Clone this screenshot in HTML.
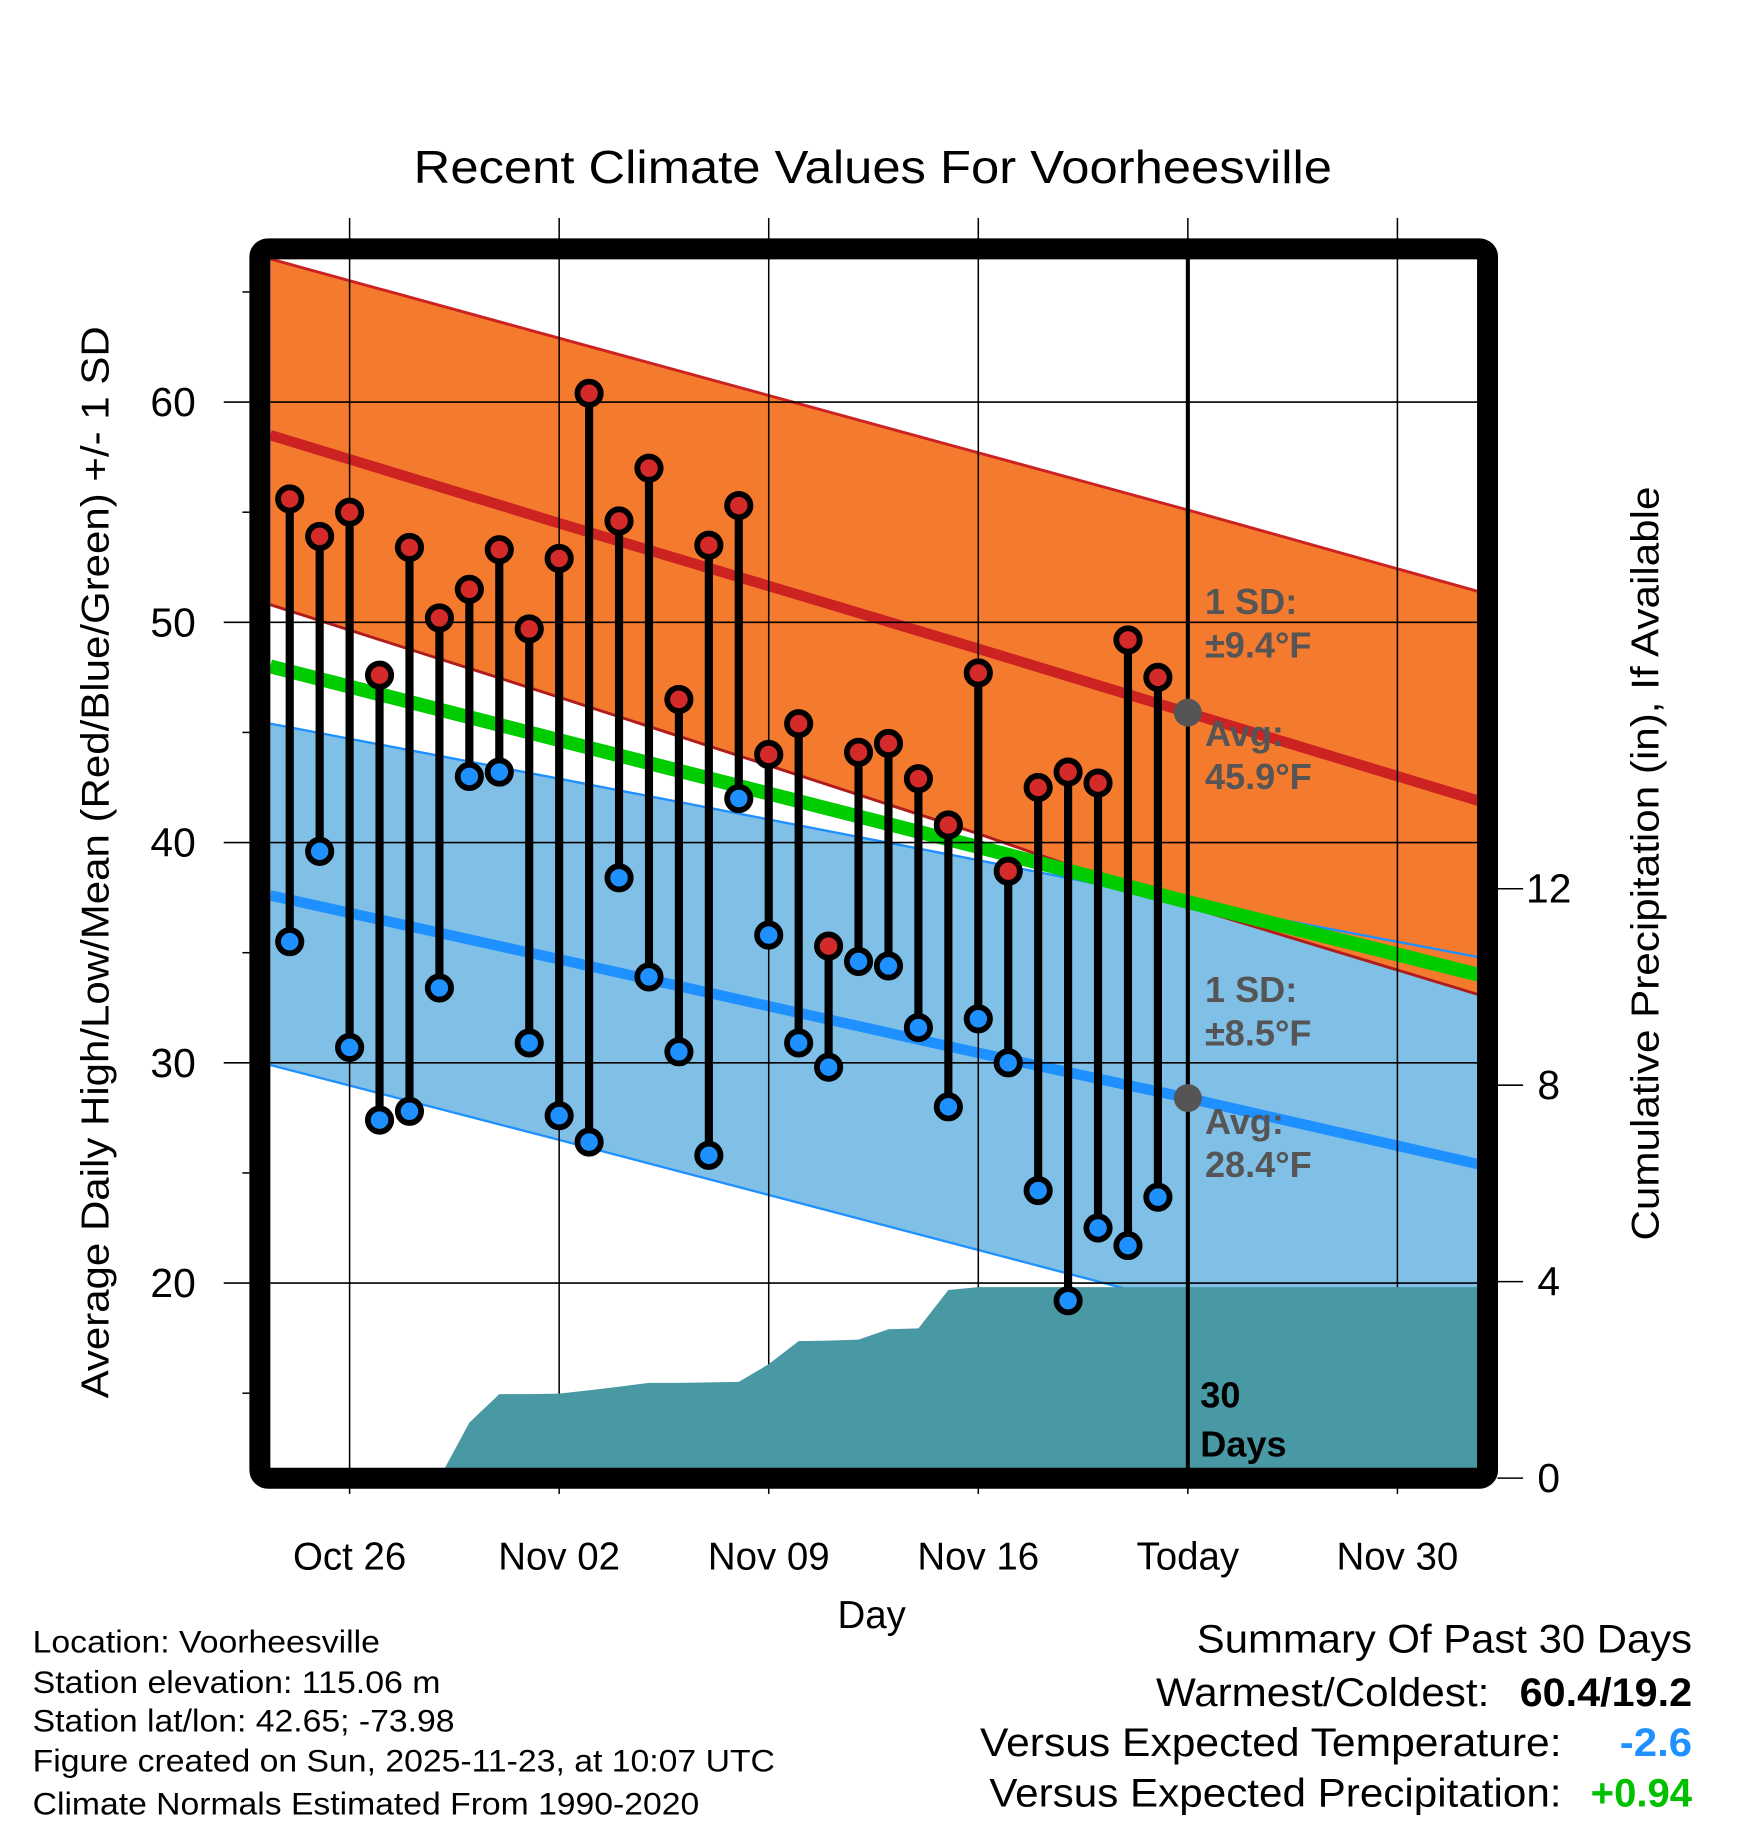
<!DOCTYPE html>
<html><head><meta charset="utf-8"><style>
html,body{margin:0;padding:0;background:#fff}
svg{display:block}
text{font-family:"Liberation Sans",sans-serif}
</style></head><body>
<svg id="chart" width="1748" height="1828" viewBox="0 0 1500 1568.6" xmlns="http://www.w3.org/2000/svg">
<defs><clipPath id="plotclip"><rect x="232" y="222" width="1036" height="1038"/></clipPath></defs>
<g id="plot" clip-path="url(#plotclip)"></g>
<g id="overlay"></g>
<text x="355" y="157" font-size="40" textLength="788" lengthAdjust="spacingAndGlyphs">Recent Climate Values For Voorheesville</text>
<text transform="translate(93,740) rotate(-90)" text-anchor="middle" font-size="33" textLength="920" lengthAdjust="spacingAndGlyphs">Average Daily High/Low/Mean (Red/Blue/Green) +/- 1 SD</text>
<text transform="translate(1423,741) rotate(-90)" text-anchor="middle" font-size="33" textLength="647" lengthAdjust="spacingAndGlyphs">Cumulative Precipitation (in), If Available</text>
<text x="748" y="1397" text-anchor="middle" font-size="33">Day</text>
<g font-size="27">
<text x="28" y="1418" textLength="298" lengthAdjust="spacingAndGlyphs">Location: Voorheesville</text>
<text x="28" y="1453" textLength="350" lengthAdjust="spacingAndGlyphs">Station elevation: 115.06 m</text>
<text x="28" y="1486" textLength="362" lengthAdjust="spacingAndGlyphs">Station lat/lon: 42.65; -73.98</text>
<text x="28" y="1520" textLength="637" lengthAdjust="spacingAndGlyphs">Figure created on Sun, 2025-11-23, at 10:07 UTC</text>
<text x="28" y="1557" textLength="572" lengthAdjust="spacingAndGlyphs">Climate Normals Estimated From 1990-2020</text>
</g>
<g font-size="34">
<text x="1027" y="1418" textLength="425" lengthAdjust="spacingAndGlyphs">Summary Of Past 30 Days</text>
<text x="992" y="1464" textLength="286" lengthAdjust="spacingAndGlyphs">Warmest/Coldest:</text>
<text x="1304" y="1464" font-weight="bold" textLength="148" lengthAdjust="spacingAndGlyphs">60.4/19.2</text>
<text x="841" y="1507" textLength="499" lengthAdjust="spacingAndGlyphs">Versus Expected Temperature:</text>
<text x="1390" y="1507" font-weight="bold" fill="#1e90ff" textLength="62" lengthAdjust="spacingAndGlyphs">-2.6</text>
<text x="849" y="1550" textLength="491" lengthAdjust="spacingAndGlyphs">Versus Expected Precipitation:</text>
<text x="1365" y="1550" font-weight="bold" fill="#00c000" textLength="87" lengthAdjust="spacingAndGlyphs">+0.94</text>
</g>
</svg>
<script>
const dataDays = [-2,-1,0,1,2,3,4,5,6,7,8,9,10,11,12,13,14,15,16,17,18,19,20,21,22,23,24,25,26,27];
const highs = [55.6,53.9,55.0,47.6,53.4,50.2,51.5,53.3,49.7,52.9,60.4,54.6,57.0,46.5,53.5,55.3,44.0,45.4,35.3,44.1,44.5,42.9,40.8,47.7,38.7,42.5,43.2,42.7,49.2,47.5];
const lows = [35.5,39.6,30.7,27.4,27.8,33.4,43.0,43.2,30.9,27.6,26.4,38.4,33.9,30.5,25.8,42.0,35.8,30.9,29.8,34.6,34.4,31.6,28.0,32.0,30.0,24.2,19.2,22.5,21.7,23.9];
const normDays = [-2.65,7,21,28,37.7];
const normHigh = [58.5,54.5,48.8,45.9,41.9];
const normHighUpper = [66.5,62.9,57.7,55.1,51.4];
const normHighLower = [50.8,46.6,40.4,37.1,33.1];
const normMean = [48.0,44.65,39.8,37.3,34.0];
const normLow = [37.6,34.7,30.45,28.4,25.4];
const normLowUpper = [45.4,42.9,39.2,37.3,34.8];
const normLowLower = [29.9,26.5,21.5,19.0,15.5];
const precipDays = [-3,3,4,5,6,7,8,9,10,11,12,13,14,15,16,17,18,19,20,21,27,38];
const precipCum = [0,0,1.13,1.71,1.71,1.72,1.79,1.86,1.94,1.94,1.95,1.96,2.32,2.79,2.80,2.82,3.03,3.05,3.83,3.89,3.89,3.89];
const xTickDays = [0,7,14,21,28,35];
const xTickLabels = ["Oct 26","Nov 02","Nov 09","Nov 16","Today","Nov 30"];
const yTicks = [20,30,40,50,60];
const y2Ticks = [0,4,8,12];

const NS="http://www.w3.org/2000/svg";
const X = d => 300 + d*25.69;
const Y = v => 345 + (60-v)*18.9;
const Y2 = p => 1268.4 - p*42.15;
const plot = document.getElementById('plot');
const ov = document.getElementById('overlay');
function mk(parent, tag, attrs){const e=document.createElementNS(NS,tag);for(const k in attrs)e.setAttribute(k,attrs[k]);parent.appendChild(e);return e;}
function line(arr){return normDays.map((d,i)=>X(d)+','+Y(arr[i])).join(' ');}
function band(up,lo){const a=normDays.map((d,i)=>X(d)+','+Y(up[i]));const b=normDays.map((d,i)=>X(d)+','+Y(lo[i])).reverse();return a.concat(b).join(' ');}

let e;
e=mk(plot,'polygon',{points:band(normLowUpper,normLowLower),fill:'#80c0e6'});


e=mk(plot,'polygon',{points:band(normHighUpper,normHighLower),fill:'#f47a2e'});


// edges and normals
[[normHighUpper,'#cc2222',2.5],[normHighLower,'#b01c1c',2.5],[normLowUpper,'#1e90ff',2],[normLowLower,'#1e90ff',2],[normMean,'#00cc00',12],[normHigh,'#cc2222',9],[normLow,'#1e90ff',9]].forEach((s,i)=>{
e=mk(plot,'polyline',{points:line(s[0]),fill:'none',stroke:s[1],'stroke-width':s[2]});

});
// grid
xTickDays.forEach(d=>{e=mk(plot,'line',{x1:X(d),x2:X(d),y1:222,y2:1260,stroke:'#000','stroke-width':1.3});


e=mk(ov,'line',{x1:X(d),x2:X(d),y1:187,y2:222,stroke:'#000','stroke-width':1.3});


e=mk(ov,'line',{x1:X(d),x2:X(d),y1:1260,y2:1282,stroke:'#000','stroke-width':1.3});

});
yTicks.forEach(v=>{e=mk(plot,'line',{x1:232,x2:1268,y1:Y(v),y2:Y(v),stroke:'#000','stroke-width':1.3});

});
// precip area
let pts=precipDays.map((d,i)=>X(d)+','+Y2(precipCum[i]));
pts.push(X(38)+',1300',X(-3)+',1300');
e=mk(plot,'polygon',{points:pts.join(' '),fill:'#4899a3'});


// today line
e=mk(plot,'line',{x1:X(28),x2:X(28),y1:222,y2:1260,stroke:'#000','stroke-width':3.5});


// stems and markers
dataDays.forEach((d,i)=>{
e=mk(plot,'line',{x1:X(d),x2:X(d),y1:Y(highs[i]),y2:Y(lows[i]),stroke:'#000','stroke-width':7});


});
dataDays.forEach((d,i)=>{
e=mk(plot,'circle',{cx:X(d),cy:Y(highs[i]),r:10,fill:'#d42a2a',stroke:'#000','stroke-width':5});


e=mk(plot,'circle',{cx:X(d),cy:Y(lows[i]),r:10,fill:'#1e90ff',stroke:'#000','stroke-width':5});


});
// today dots
e=mk(ov,'circle',{cx:X(28),cy:Y(normHigh[3]),r:12,fill:'#555'});


e=mk(ov,'circle',{cx:X(28),cy:Y(normLow[3]),r:12,fill:'#555'});


// annotations
[['1 SD:',527,'#555'],['±9.4°F',564,'#555'],['Avg:',640,'#555'],['45.9°F',677,'#555'],['1 SD:',860,'#555'],['±8.5°F',897,'#555'],['Avg:',973,'#555'],['28.4°F',1010,'#555'],['30',1208,'#000'],['Days',1250,'#000']].forEach((t,i)=>{
e=mk(ov,'text',{x:i>=8?1030:1034,y:t[1],fill:t[2],'font-size':31,'font-weight':'bold'});
e.textContent=t[0];


});
// frame
e=mk(ov,'rect',{x:223,y:213.5,width:1053.5,height:1055,rx:7,fill:'none',stroke:'#000','stroke-width':18});


// y ticks
for(let v=15;v<=65;v+=5){const maj=v%10===0;
e=mk(ov,'line',{x1:maj?192:208,x2:214,y1:Y(v),y2:Y(v),stroke:'#000','stroke-width':1.3});

}
yTicks.forEach(v=>{e=mk(ov,'text',{x:168,y:Y(v)+12,'text-anchor':'end','font-size':35});e.textContent=v;

});
y2Ticks.forEach(p=>{e=mk(ov,'line',{x1:1285,x2:1307,y1:Y2(p),y2:Y2(p),stroke:'#000','stroke-width':1.3});


e=mk(ov,'text',{x:1329,y:Y2(p)+12,'text-anchor':'middle','font-size':35});e.textContent=p;

});
xTickDays.forEach((d,i)=>{e=mk(ov,'text',{x:X(d),y:1347,'text-anchor':'middle','font-size':33});e.textContent=xTickLabels[i];

});
</script>
</body></html>
